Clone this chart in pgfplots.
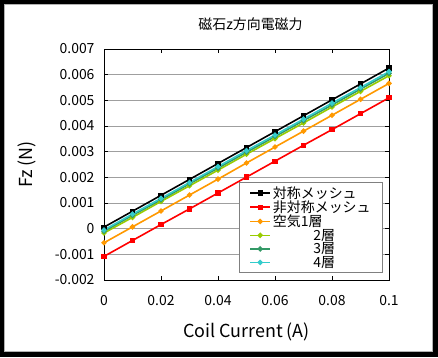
\documentclass[border=0pt]{standalone}
\usepackage{fontspec}
\setmainfont{Noto Sans CJK JP}
\usepackage{pgfplots}
\pgfplotsset{compat=1.18}
\definecolor{cOrange}{HTML}{FF9900}
\definecolor{cYG}{HTML}{99CC00}
\definecolor{cSea}{HTML}{339966}
\definecolor{cCyan}{HTML}{33CCCC}
\begin{document}
\begin{tikzpicture}[x=1bp,y=1bp]
\fill[black] (0,0) rectangle (438,357);
\fill[white] (4,5) rectangle (433,353);
\draw[gray!60, line width=0.6bp] (4.3,5.3) rectangle (432.7,352.7);
\begin{axis}[
  at={(104bp,77bp)}, anchor=south west,
  scale only axis, width=285bp, height=231bp,
  xmin=0, xmax=0.1, ymin=-0.002, ymax=0.007,
  xtick={0,0.02,...,0.1},
  ytick={-0.002,-0.001,...,0.007},
  scaled ticks=false,
  x tick label style={font=\fontsize{14}{16}\selectfont, yshift=-12bp},
  y tick label style={font=\fontsize{14}{16}\selectfont, xshift=-6bp},
  yticklabel style={/pgf/number format/fixed,/pgf/number format/precision=3},
  xticklabel style={/pgf/number format/fixed,/pgf/number format/precision=2},
  /pgf/number format/assume math mode=true,
  ymajorgrids, grid style={gray!75, line width=0.7bp},
  tick align=inside, major tick length=4bp,
  tick style={black, line width=0.5bp},
  axis line style={black, line width=1bp},
  xlabel={Coil Current (A)},
  xlabel style={font=\fontsize{18}{20}\selectfont, yshift=-10bp},
  ylabel={Fz (N)},
  ylabel style={font=\fontsize{18}{20}\selectfont, yshift=12bp},
  title={磁石z方向電磁力},
  title style={font=\fontsize{14}{16}\selectfont, yshift=9bp, xshift=4bp},
  legend style={at={(0.979,0.424)}, anchor=north east, draw=gray, line width=0.8bp,
    font=\fontsize{14}{15}\selectfont, row sep=-3bp, inner xsep=10bp, inner ysep=2bp, fill=white},
  legend cell align=left,
  legend image code/.code={\draw[#1, line width=1.6bp] (3bp,0bp) -- (23bp,0bp); \path[#1, line width=1.6bp] plot coordinates {(13bp,0bp)};},
  every axis plot/.append style={line width=1.6bp},
]
\addplot[black, mark=square*, mark size=1.8bp] coordinates {(0,0.00006)(0.01,0.00068)(0.02,0.00130)(0.03,0.00192)(0.04,0.00254)(0.05,0.00316)(0.06,0.00378)(0.07,0.00440)(0.08,0.00502)(0.09,0.00564)(0.1,0.00626)};
\addplot[red, mark=square*, mark size=1.8bp] coordinates {(0,-0.00108)(0.01,-0.00046)(0.02,0.00016)(0.03,0.00077)(0.04,0.00139)(0.05,0.00201)(0.06,0.00263)(0.07,0.00325)(0.08,0.00386)(0.09,0.00448)(0.1,0.00510)};
\addplot[cOrange, mark=*, mark size=1.8bp] coordinates {(0,-0.00055)(0.01,0.00007)(0.02,0.00069)(0.03,0.00131)(0.04,0.00193)(0.05,0.00256)(0.06,0.00318)(0.07,0.00380)(0.08,0.00442)(0.09,0.00504)(0.1,0.00566)};
\addplot[cYG, mark=*, mark size=1.8bp] coordinates {(0,-0.00017)(0.01,0.00044)(0.02,0.00106)(0.03,0.00167)(0.04,0.00228)(0.05,0.00290)(0.06,0.00351)(0.07,0.00412)(0.08,0.00474)(0.09,0.00535)(0.1,0.00596)};
\addplot[cSea, mark=*, mark size=1.8bp] coordinates {(0,-0.00010)(0.01,0.00052)(0.02,0.00113)(0.03,0.00175)(0.04,0.00236)(0.05,0.00298)(0.06,0.00359)(0.07,0.00421)(0.08,0.00482)(0.09,0.00544)(0.1,0.00605)};
\addplot[cCyan, mark=*, mark size=1.8bp] coordinates {(0,-0.00005)(0.01,0.00057)(0.02,0.00118)(0.03,0.00180)(0.04,0.00242)(0.05,0.00304)(0.06,0.00365)(0.07,0.00427)(0.08,0.00489)(0.09,0.00550)(0.1,0.00612)};
\legend{対称メッシュ, 非対称メッシュ, 空気1層, \hspace{2.9em}2層, \hspace{2.9em}3層, \hspace{2.9em}4層}
\end{axis}
\end{tikzpicture}
\end{document}
